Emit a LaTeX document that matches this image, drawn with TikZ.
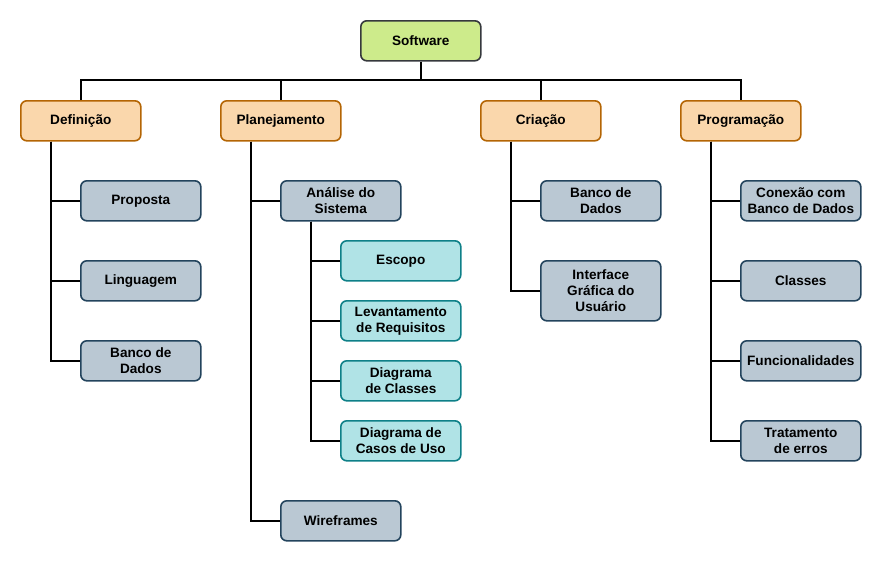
\documentclass[tikz,border=0pt]{standalone}
\usepackage{fontspec}
\setmainfont{Liberation Sans}
\definecolor{gfill}{HTML}{CDEB8B}\definecolor{gline}{HTML}{36393D}
\definecolor{ofill}{HTML}{FAD7AC}\definecolor{oline}{HTML}{B46504}
\definecolor{bfill}{HTML}{BAC8D3}\definecolor{bline}{HTML}{23445D}
\definecolor{tfill}{HTML}{B0E3E6}\definecolor{tline}{HTML}{0E8088}
\tikzset{
  box/.style={rounded corners=6pt, line width=1.6pt, minimum width=120pt, minimum height=40pt,
    align=center, inner sep=1pt, font=\bfseries\fontsize{13.6}{16}\selectfont, anchor=north west},
  rootbox/.style={box, fill=gfill, draw=gline},
  phase/.style={box, fill=ofill, draw=oline},
  task/.style={box, fill=bfill, draw=bline},
  sub/.style={box, fill=tfill, draw=tline},
  link/.style={line width=1.8pt, black},
}
\begin{document}
\begin{tikzpicture}[x=1pt,y=-1pt]
\useasboundingbox (0,0) rectangle (880,560);
\node[rootbox] (sw) at (360,20) {Software};
\node[phase] (def) at (20,100) {Definição};
\node[phase] (pla) at (220,100) {Planejamento};
\node[phase] (cri) at (480,100) {Criação};
\node[phase] (pro) at (680,100) {Programação};
% Definicao
\node[task] (prop) at (80,180) {Proposta};
\node[task] (ling) at (80,260) {Linguagem};
\node[task] (bd1) at (80,340) {Banco de\\Dados};
% Planejamento
\node[task] (ana) at (280,180) {Análise do\\Sistema};
\node[task] (wire) at (280,500) {Wireframes};
\node[sub] (esc) at (340,240) {Escopo};
\node[sub] (lev) at (340,300) {Levantamento\\de Requisitos};
\node[sub] (dcl) at (340,360) {Diagrama\\de Classes};
\node[sub] (dcu) at (340,420) {Diagrama de\\Casos de Uso};
% Criacao
\node[task] (bd2) at (540,180) {Banco de\\Dados};
\node[task, minimum height=60pt] (gui) at (540,260) {Interface\\Gráfica do\\Usuário};
% Programacao
\node[task] (con) at (740,180) {Conexão com\\Banco de Dados};
\node[task] (cla) at (740,260) {Classes};
\node[task] (fun) at (740,340) {Funcionalidades};
\node[task] (tra) at (740,420) {Tratamento\\de erros};
% connectors
\coordinate (bus) at (420,80);
\coordinate (lbus) at (80,80);
\coordinate (rbus) at (740,80);
\draw[link, line width=2.6pt] (sw.south) -- (sw.south |- bus);
\draw[link] (bus) -| (def.north);
\draw[link] (bus) -| (pla.north);
\draw[link] (bus) -| (cri.north);
\draw[link] (bus) -| (pro.north);
\coordinate (sdef) at ([xshift=-30pt]def.south);
\coordinate (spla) at ([xshift=-30pt]pla.south);
\coordinate (scri) at ([xshift=-30pt]cri.south);
\coordinate (spro) at ([xshift=-30pt]pro.south);
\coordinate (sana) at ([xshift=-30pt]ana.south);
\foreach \c in {prop,ling,bd1} \draw[link] (sdef) |- (\c.west);
\foreach \c in {ana,wire} \draw[link] (spla) |- (\c.west);
\foreach \c in {esc,lev,dcl,dcu} \draw[link] (sana) |- (\c.west);
\foreach \c in {bd2,gui} \draw[link] (scri) |- (\c.west);
\foreach \c in {con,cla,fun,tra} \draw[link] (spro) |- (\c.west);
\end{tikzpicture}
\end{document}
